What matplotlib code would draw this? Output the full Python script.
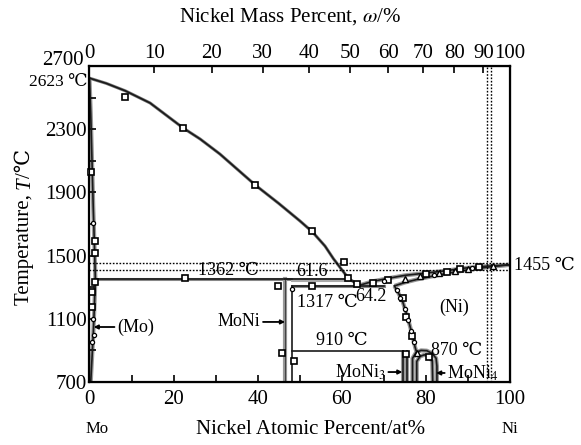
import numpy as np
import matplotlib.pyplot as plt

plt.rcParams['font.family'] = ['Liberation Serif', 'DejaVu Serif', 'DejaVu Sans']
plt.rcParams['mathtext.fontset'] = 'stix'

# phase boundaries (Ni at.%, temperature degC)
liq_mo_x = [0, 4, 8.5, 14.4, 22.3, 26.3, 31, 39.4, 45, 50, 53, 56, 58, 60, 61.6, 64.2]
liq_mo_t = [2623, 2590, 2543, 2466, 2307, 2238, 2143, 1947, 1830, 1720, 1650, 1560, 1480, 1410, 1355, 1310]

sol_mo_x = [0, 0.3, 0.6, 0.9, 1.2, 1.4, 1.2, 0.9, 0.6, 0.3]
sol_mo_t = [2623, 2400, 2100, 1800, 1550, 1352, 1200, 1000, 850, 700]

liq_ni_x = [64.2, 67.5, 71.4, 75, 80.2, 85, 88.8, 94, 100]
liq_ni_t = [1312, 1338, 1358, 1375, 1390, 1405, 1420, 1432, 1442]
sol_ni_x = [72.5, 75, 78, 82, 86, 90, 95, 100]
sol_ni_t = [1308, 1330, 1350, 1372, 1392, 1410, 1428, 1442]
solvus_x = [72.5, 73.5, 74.5, 75.4, 76.2, 76.9, 77.4, 77.8]
solvus_t = [1308, 1260, 1205, 1130, 1053, 980, 921, 885]

peri_x = [1.4, 61.6]      # 1362 line
peri_t = 1352
eut_x = [48.1, 70]        # 1317 line
eut_t = 1308
line910_x = [48.1, 74.5]
line910_t = 893

moni_x = [46.4, 48.1]
moni3_x = [74.5, 75.6]
moni4_out_x = [76.8, 76.8, 77.6, 78.8, 80.2, 81.5, 82.4, 82.6, 82.6]
moni4_out_t = [700, 850, 885, 900, 898, 880, 850, 800, 700]
moni4_in_x = [77.8, 77.8, 78.6, 79.6, 80.8, 81.5, 81.6]
moni4_in_t = [700, 830, 862, 872, 862, 830, 700]

dot_t = [1450, 1411]
dot_x = [94.5, 95.5]

sq_x = [8.5, 22.3, 39.4, 53, 60.4, 61.4, 63.6, 22.6, 1.4, 1.2, 1.2, 0.4, 44.8, 52.9, 45.7, 48.6,
        0.6, 0.5, 67.5, 71, 80, 85, 88, 92.5, 74.5, 75.2, 76.6, 75.3, 80.8]
sq_t = [2506, 2307, 1947, 1656, 1459, 1356, 1318, 1356, 1333, 1516, 1592, 2027, 1305, 1305, 883, 832,
        1270, 1175, 1325, 1345, 1385, 1398, 1412, 1425, 1230, 1110, 990, 880, 860]
tri_x = [75, 78.5, 83, 87, 90, 96, 77.8]
tri_t = [1352, 1368, 1388, 1402, 1412, 1432, 885]
dia_x = [0.8, 48.1, 73, 73.8, 74.9, 75.8, 76.5, 77.2, 0.9, 1.0, 0.5, 70, 82, 91]
dia_t = [1706, 1290, 1280, 1230, 1160, 1090, 1020, 955, 1100, 1000, 950, 1340, 1380, 1420]

mass_ticks = [0, 10, 20, 30, 40, 50, 60, 70, 80, 90, 100]

fig = plt.figure(figsize=(5.81, 4.45), dpi=100)
ax = fig.add_axes([0.154, 0.1416, 0.724, 0.7101])
ax.set_xlim(0, 100)
ax.set_ylim(700, 2700)

halo = dict(color='#999999', lw=3.0, solid_capstyle='butt', zorder=1)
dark = dict(color='#1a1a1a', lw=1.2, zorder=2)

# liquidus and solidus curves
ax.plot(liq_mo_x, liq_mo_t, color='#777777', lw=2.2, zorder=1)
ax.plot(liq_mo_x, liq_mo_t, **dark)
ax.plot(sol_mo_x, sol_mo_t, **halo)
ax.plot(sol_mo_x, sol_mo_t, **dark)
for xs, ts in [(liq_ni_x, liq_ni_t), (sol_ni_x, sol_ni_t), (solvus_x, solvus_t)]:
    ax.plot(xs, ts, **halo)
    ax.plot(xs, ts, **dark)

# invariant lines
ax.plot(peri_x, [peri_t, peri_t], color='#888888', lw=2.2, zorder=1)
ax.plot(peri_x, [peri_t, peri_t], **dark)
ax.plot([48.1, 61.6], [peri_t - 12, peri_t - 12], color='#aaaaaa', lw=1.5, zorder=1)
ax.plot(eut_x, [eut_t, eut_t], color='#888888', lw=2.2, zorder=1)
ax.plot(eut_x, [eut_t, eut_t], **dark)
ax.plot(line910_x, [line910_t, line910_t], **dark)

# intermetallic phases
ax.plot([moni_x[0], moni_x[0]], [peri_t, 700], color='#999999', lw=3, zorder=1)
ax.plot([moni_x[0], moni_x[0]], [peri_t, 700], color='#444444', lw=0.8, zorder=2)
ax.plot([moni_x[1], moni_x[1]], [eut_t, 700], **dark)
ax.plot(moni_x, [peri_t, peri_t], **dark)
for xv in moni3_x:
    ax.plot([xv, xv], [line910_t, 700], **halo)
    ax.plot([xv, xv], [line910_t, 700], **dark)
ax.plot(moni4_out_x, moni4_out_t, **halo)
ax.plot(moni4_out_x, moni4_out_t, **dark)
ax.plot(moni4_in_x, moni4_in_t, **halo)
ax.plot(moni4_in_x, moni4_in_t, **dark)

# dotted guide lines
for t in dot_t:
    ax.plot([0, 100], [t, t], color='k', ls=(0, (1.2, 1.2)), lw=1.0, zorder=3)
for xv in dot_x:
    ax.plot([xv, xv], [700, 2700], color='k', ls=(0, (1.2, 1.2)), lw=1.0, zorder=3)

# experimental points
ax.plot(sq_x, sq_t, 's', ms=4.5, mfc='white', mec='k', mew=1.2, zorder=4, clip_on=False)
ax.plot(tri_x, tri_t, '^', ms=4, mfc='white', mec='k', mew=1.0, zorder=4)
ax.plot(dia_x, dia_t, 'o', ms=3, mfc='white', mec='k', mew=0.9, zorder=4)

# labels inside
fs = 13
ax.text(33, 1405, '1362 \u2103', fontsize=fs, ha='center', va='center')
ax.text(53, 1400, '61.6', fontsize=fs, ha='center', va='center')
ax.text(56.5, 1200, '1317 \u2103', fontsize=fs, ha='center', va='center')
ax.text(66.8, 1244, '64.2', fontsize=fs, ha='center', va='center')
ax.text(60.1, 960, '910 \u2103', fontsize=fs, ha='center', va='center')
ax.text(87.3, 900, '870 \u2103', fontsize=fs, ha='center', va='center')
ax.text(86.8, 1175, '(Ni)', fontsize=fs, ha='center', va='center')
ax.text(101, 1440, '1455 \u2103', fontsize=fs, ha='left', va='center', clip_on=False)
ax.annotate('2623 \u2103', xy=(0, 2623), xytext=(-1, -3), textcoords='offset points',
            fontsize=12.5, ha='right', va='center')

arr = dict(arrowstyle='-|>', color='k', lw=1.3, mutation_scale=6, shrinkA=0, shrinkB=0)
ax.annotate('(Mo)', xy=(1.0, 1048), xytext=(6.6, 1048), fontsize=fs, va='center', ha='left',
            arrowprops=arr)
ax.annotate('MoNi', xy=(46.5, 1080), xytext=(40.6, 1080), fontsize=fs, va='center', ha='right',
            arrowprops=arr)
ax.annotate('MoNi$_3$', xy=(74.4, 763), xytext=(70.4, 763), fontsize=fs, va='center', ha='right',
            arrowprops=arr)
ax.annotate('MoNi$_4$', xy=(82.4, 757), xytext=(85.1, 757), fontsize=fs, va='center', ha='left',
            arrowprops=arr)

# axes styling
ax.set_xticks(np.arange(0, 101, 10))
ax.set_xticklabels(['0', '', '20', '', '40', '', '60', '', '80', '', '100'])
ax.set_yticks(np.arange(700, 2701, 200))
ax.set_yticklabels(['700', '', '1100', '', '1500', '', '1900', '', '2300', '', ''])
ax.annotate('2700', xy=(0, 2700), xytext=(-4, 4), textcoords='offset points',
            fontsize=15, ha='right', va='center')
ax.tick_params(direction='in', length=5, width=1.2, labelsize=15, top=False, right=False)
ax.tick_params(axis='x', pad=6)
ax.tick_params(axis='y', pad=2)
for s in ax.spines.values():
    s.set_linewidth(1.6)

# top axis: Ni mass percent converted to atomic percent
mass = np.array(mass_ticks, dtype=float)
at_pos = (mass / 58.69) / (mass / 58.69 + (100 - mass) / 95.95) * 100
ax2 = ax.twiny()
ax2.set_xlim(0, 100)
ax2.set_xticks(at_pos)
ax2.set_xticklabels([str(m) for m in mass_ticks])
ax2.tick_params(direction='in', length=5, width=1.2, labelsize=15, pad=2)

fig.text(0.5, 0.962, 'Nickel Mass Percent, $\\omega$/%', fontsize=15, ha='center', va='center')
fig.text(0.534, 0.034, 'Nickel Atomic Percent/at%', fontsize=15, ha='center', va='center')
fig.text(0.167, 0.036, 'Mo', fontsize=12, ha='center', va='center')
fig.text(0.878, 0.036, 'Ni', fontsize=12, ha='center', va='center')

# y label in three pieces so that the italic T and the degree sign both render
r = fig.canvas.get_renderer()
parts = [('Temperature, ', 'normal'), ('T', 'italic'), ('/\u2103', 'normal')]
texts = [fig.text(0, 0, s, fontsize=15, style=st, rotation=90, ha='center', va='bottom')
         for s, st in parts]
heights = [t.get_window_extent(r).height / fig.bbox.height for t in texts]
y0 = 0.49 - sum(heights) / 2
for t, h in zip(texts, heights):
    t.set_position((0.043, y0))
    y0 += h

fig.savefig('out.png', dpi=100)
